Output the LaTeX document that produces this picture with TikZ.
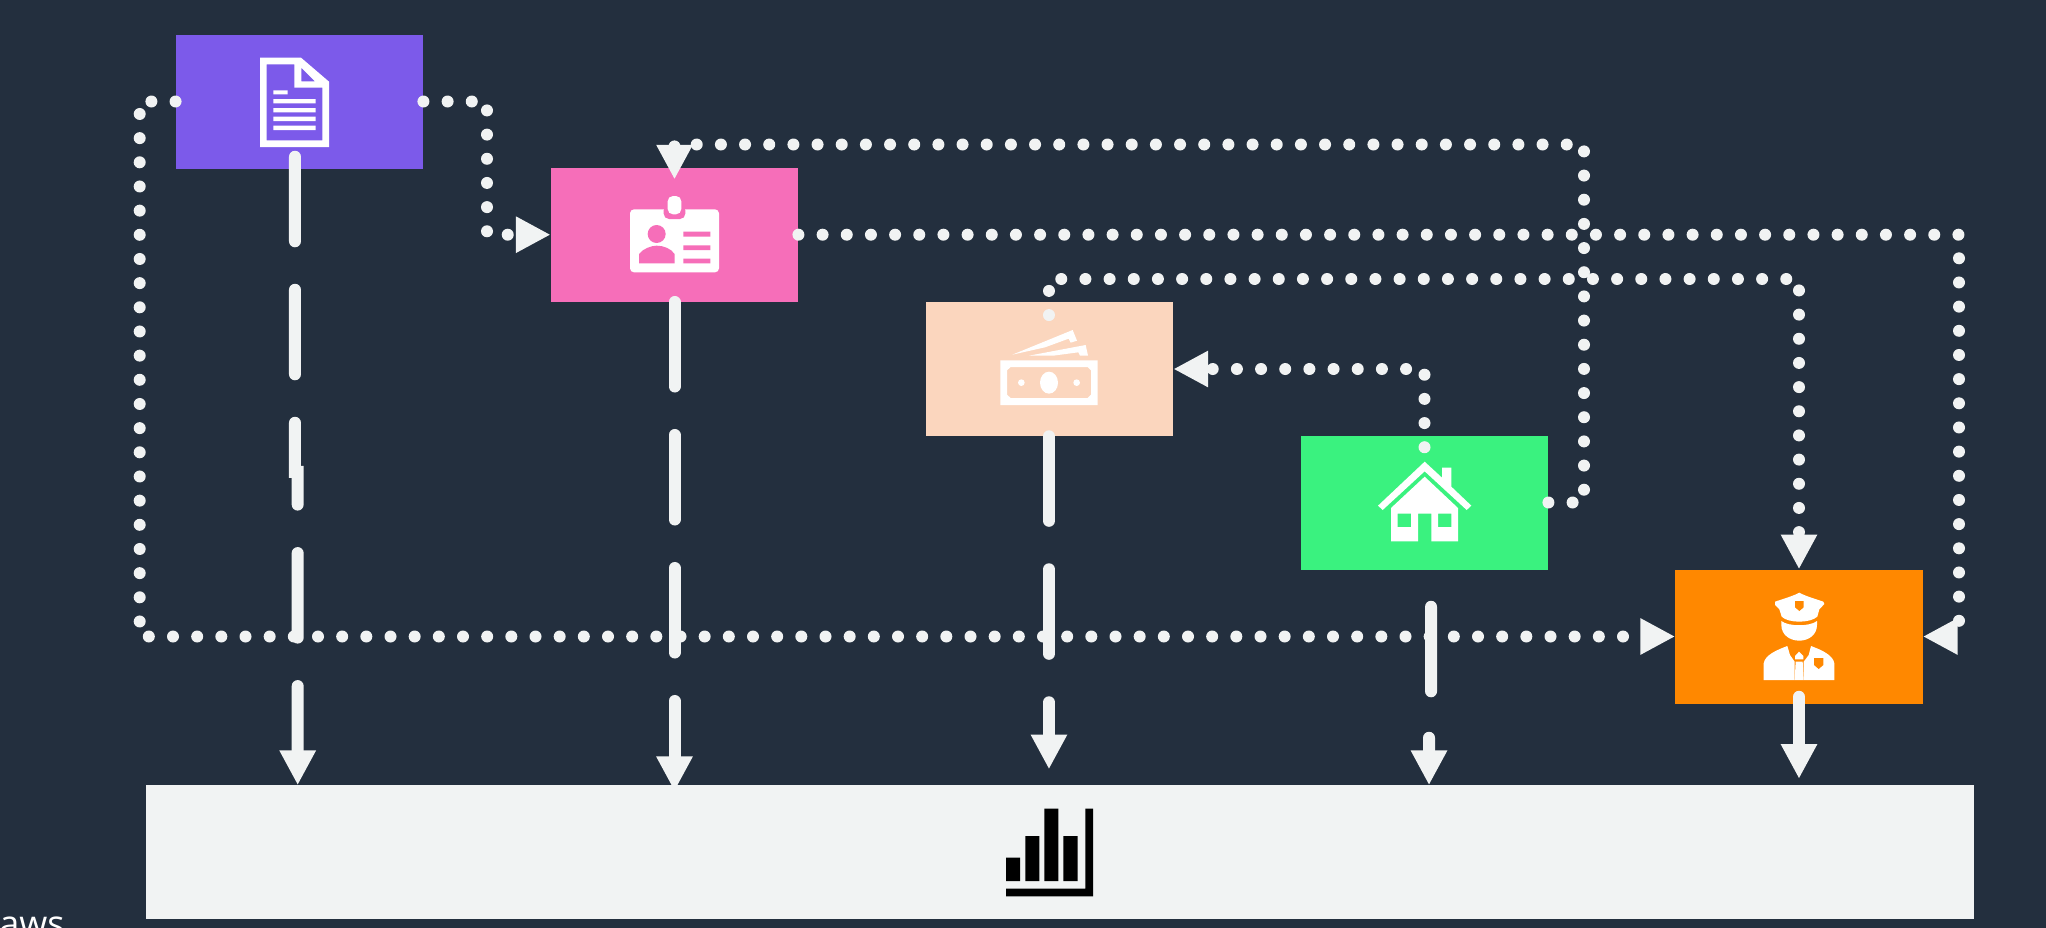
\documentclass[tikz,border=0pt]{standalone}
\usepackage{fontspec}
\setmainfont{Open Sans}
\usetikzlibrary{arrows.meta}
\definecolor{bgdark}{HTML}{232F3E}
\definecolor{purplebox}{HTML}{7C5AEA}
\definecolor{pinkbox}{HTML}{F66EB9}
\definecolor{peachbox}{HTML}{FBD6BE}
\definecolor{greenbox}{HTML}{3AF27F}
\definecolor{orangebox}{HTML}{FF8800}
\definecolor{linegray}{HTML}{F1F3F3}
\pgfdeclarelayer{front}
\pgfsetlayers{main,front}
\begin{document}
\begin{tikzpicture} [x=0.75pt,y=-0.75pt]
      \tikzstyle{box} = [inner sep=0pt, minimum width=185.5pt, minimum height=100.5pt]
      \tikzstyle{tip} = [-{Triangle[length=26pt,width=25.5pt]}]
      \tikzstyle{dots} = [tip, draw=linegray, line width=9pt, line cap=round, dash pattern=on 0pt off 18.125pt]
      \tikzstyle{flow} = [tip, draw=linegray, line width=9pt, line cap=round, dash pattern=on 63.4pt off 36.35pt]
      \tikzstyle{zoomed} = [x=0.25pt, y=-0.25pt]
      \useasboundingbox[fill=bgdark] (0,0) rectangle (2046,928);
      \node[anchor=base west, inner sep=0pt, text=white, font=\fontsize{27pt}{27pt}\selectfont] (awslabel) at (-1,936) {aws};
      \begin{pgfonlayer}{front}
        \node[box, fill=linegray, minimum width=1371pt] (gray) at (1060,852.4) {};
        \begin{scope}[shift={(950,780)},zoomed]
          \fill[black] (168,233) rectangle (210,303) (226,168) rectangle (268,303)
            (283,86) rectangle (325,303) (340,168) rectangle (383,303);
          \fill[black] (168,326) -- (406,326) -- (406,86) -- (429,86) -- (429,349) -- (168,349) -- cycle;
        \end{scope}
      \end{pgfonlayer}
      \node[box, fill=purplebox] (purple) at (299.5,101.5) {};
      \node[box, fill=pinkbox] (pink) at (674.5,234.7) {};
      \node[box, fill=peachbox] (peach) at (1049.5,369) {};
      \node[box, fill=greenbox] (green) at (1424.5,502.5) {};
      \node[box, fill=orangebox] (orange) at (1799,636.5) {};
      \begin{scope}[shift={(130,20)},zoomed]
        \fill[white, even odd rule] (390,113) -- (513,113) -- (597,185) -- (597,381) -- (390,381) -- cycle
          (410,133) -- (493,133) -- (493,203) -- (577,203) -- (577,361) -- (410,361) -- cycle
          (514,143) -- (514,184) -- (555,184) -- cycle;
        \fill[white] (430,211) rectangle (473,223) (430,237) rectangle (557,250)
          (430,264) rectangle (557,277) (430,290) rectangle (557,303) (430,317) rectangle (557,330);
      \end{scope}
      \begin{scope}[shift={(540,130)},zoomed]
        \fill[white, rounded corners=3pt] (270,238) rectangle (537,427);
        \fill[pinkbox, rounded corners=4pt] (371,225) rectangle (436,267);
        \fill[white, rounded corners=4pt] (383,198) rectangle (424,253);
        \fill[pinkbox] (350,312) circle[radius=27];
        \fill[pinkbox] (297,400) -- (297,372) .. controls (310,355) and (335,347) .. (350,347)
          .. controls (370,347) and (392,355) .. (404,372) -- (404,400) -- cycle;
        \fill[pinkbox] (430,305) rectangle (511,320) (430,346) rectangle (511,360) (430,386) rectangle (511,400);
      \end{scope}
      \begin{scope}[shift={(920,290)},zoomed]
        \fill[white, even odd rule] (241,211) rectangle (533,345)
          (272,231) -- (503,231) -- (513,241) -- (513,314) -- (503,324) -- (272,324) -- (261,314) -- (261,241) -- cycle;
        \fill[white] (387,278) ellipse[x radius=27, y radius=33];
        \fill[white] (304,278) circle[radius=10] (470,278) circle[radius=10];
        \fill[white] (277,194) -- (458,120) -- (471,152) -- (452,158) -- (446,146) -- (375,172) -- cycle;
        \fill[white] (327,197) -- (497,165) -- (504,197) -- (480,197) -- (475,187) -- (400,197) -- cycle;
      \end{scope}
      \begin{scope}[shift={(1290,430)},zoomed]
        \fill[white] (264,227) -- (404,95) -- (456,143) -- (456,113) -- (484,113) -- (484,170) -- (544,227)
          -- (530,240) -- (404,124) -- (278,240) -- cycle;
        \fill[white, even odd rule] (404,140) -- (504,234) -- (504,334) -- (424,334) -- (424,251) -- (384,251)
          -- (384,334) -- (303,334) -- (303,234) -- cycle
          (323,251) rectangle (363,291) (444,251) rectangle (484,291);
      \end{scope}
      \begin{scope}[shift={(1660,520)},zoomed]
        \fill[white] (418,218) .. controls (435,228) and (470,238) .. (490,245) -- (493,252) -- (478,268)
          -- (472,290) .. controls (450,310) and (385,310) .. (365,290) -- (358,268) -- (345,255) -- (345,245)
          .. controls (365,238) and (400,228) .. (418,218) -- cycle;
        \fill[orangebox] (405,243) -- (431,243) -- (431,262) -- (418,273) -- (405,262) -- cycle;
        \fill[white] (364,303) .. controls (385,320) and (450,320) .. (471,303) -- (471,315)
          .. controls (471,345) and (445,362) .. (418,362) .. controls (390,362) and (364,345) .. (364,315) -- cycle;
        \fill[white] (311,480) -- (311,430) .. controls (315,405) and (350,390) .. (382,378) -- (390,405)
          -- (404,425) -- (404,480) -- cycle;
        \fill[white] (523,480) -- (523,430) .. controls (519,405) and (485,390) .. (453,378) -- (446,405)
          -- (431,425) -- (431,480) -- cycle;
        \fill[white] (407,425) -- (428,425) -- (431,480) -- (404,480) -- cycle;
        \fill[white] (417,395) -- (430,408) -- (430,418) -- (405,418) -- (405,408) -- cycle;
        \fill[orangebox] (462,414) -- (490,414) -- (490,435) -- (476,447) -- (462,435) -- cycle;
      \end{scope}
      \draw[flow] ([xshift=-3.4pt,yshift=9pt]purple.south) -- ++(0,315) -- ++(2.7,0) -- (297.7,0 |- gray.north);
      \draw[flow,shorten >=-4.5pt] (pink.south) -- (pink.south |- gray.north);
      \draw[flow] ([xshift=-0.4pt]peach.south) -- ++(0,333);
      \draw[flow,dash phase=72pt] ([xshift=4.9pt]green.south) -- ++(0,146) -- ++(-2,0) -- (1429,0 |- gray.north);
      \draw[flow] ([yshift=5.25pt]orange.south) -- ++(0,82);
      \draw[dots] (purple.west) -- (139.7,101.5) -- (139.7,636.5) -- (orange.west);
      \draw[dots] (purple.east) -- (487,101.5) -- (487,234.7) -- (pink.west);
      \draw[dots] (green.east) -- (1584,502.5) -- (1584,144.5) -- (674.5,144.5) -- ([yshift=-9pt]pink.north);
      \draw[dots] (pink.east) -- (1959,234.7) -- (1959,636.5) -- (orange.east);
      \draw[dots] ([xshift=-0.4pt,yshift=-10pt]peach.north) -- (1049,279) -- (1799,279) -- (orange.north);
      \draw[dots] ([yshift=-9pt]green.north) -- (1424.5,369) -- (peach.east);
\end{tikzpicture}
\end{document}
